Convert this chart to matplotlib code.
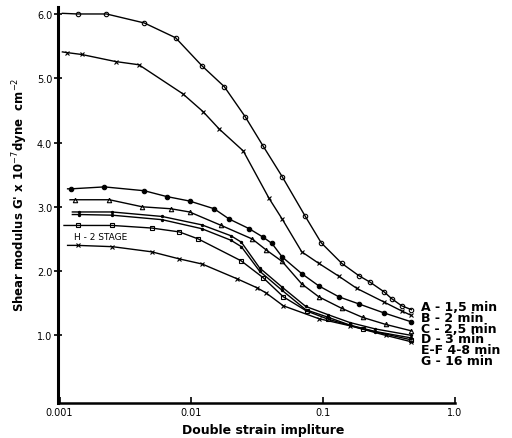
import numpy as np
import matplotlib
matplotlib.use("Agg")
import matplotlib.pyplot as plt
from matplotlib.ticker import NullLocator

# values (strain, G' x 1e-7 dyne/cm2)
strain_A = [0.00105, 0.00137, 0.00227, 0.0044, 0.0076, 0.0121, 0.0178, 0.0257, 0.035, 0.049,
            0.073, 0.097, 0.139, 0.187, 0.227, 0.29, 0.333, 0.396, 0.47]
mod_A = [6.01, 6.00, 6.00, 5.86, 5.63, 5.19, 4.87, 4.40, 3.95, 3.47,
         2.86, 2.44, 2.12, 1.93, 1.83, 1.68, 1.57, 1.46, 1.40]

strain_B = [0.00105, 0.00113, 0.00147, 0.00266, 0.004, 0.0086, 0.0123, 0.0163, 0.0248, 0.039,
            0.049, 0.069, 0.093, 0.132, 0.181, 0.29, 0.396, 0.47]
mod_B = [5.41, 5.40, 5.37, 5.26, 5.21, 4.76, 4.48, 4.21, 3.87, 3.13,
         2.81, 2.30, 2.12, 1.92, 1.73, 1.52, 1.38, 1.31]

strain_C = [0.00115, 0.00123, 0.00219, 0.0044, 0.0065, 0.0097, 0.0149, 0.0194, 0.0275, 0.035,
            0.041, 0.049, 0.069, 0.093, 0.132, 0.187, 0.29, 0.47]
mod_C = [3.28, 3.28, 3.31, 3.25, 3.16, 3.09, 2.97, 2.81, 2.66, 2.53,
         2.43, 2.22, 1.96, 1.77, 1.60, 1.49, 1.35, 1.21]

strain_D = [0.0012, 0.0013, 0.00239, 0.00425, 0.007, 0.0097, 0.0169, 0.029, 0.037, 0.049,
            0.069, 0.093, 0.139, 0.2, 0.3, 0.47]
mod_D = [3.11, 3.11, 3.11, 3.00, 2.97, 2.92, 2.71, 2.50, 2.33, 2.15,
         1.80, 1.60, 1.42, 1.28, 1.17, 1.07]

strain_E = [0.00125, 0.0014, 0.0025, 0.006, 0.012, 0.02, 0.024, 0.033, 0.049, 0.074,
            0.11, 0.16, 0.25, 0.47]
mod_E = [2.92, 2.92, 2.92, 2.85, 2.72, 2.55, 2.45, 2.05, 1.75, 1.45,
         1.32, 1.20, 1.10, 1.00]

strain_F = [0.00125, 0.0014, 0.0025, 0.006, 0.012, 0.02, 0.024, 0.033, 0.049, 0.074,
            0.11, 0.16, 0.25, 0.47]
mod_F = [2.88, 2.88, 2.87, 2.80, 2.66, 2.48, 2.38, 2.00, 1.70, 1.40,
         1.28, 1.16, 1.06, 0.96]

strain_G = [0.00108, 0.00137, 0.00252, 0.005, 0.0081, 0.0113, 0.0239, 0.035, 0.05, 0.075,
            0.11, 0.2, 0.47]
mod_G = [2.71, 2.71, 2.71, 2.67, 2.61, 2.50, 2.16, 1.90, 1.60, 1.38,
         1.25, 1.10, 0.93]

strain_H = [0.00115, 0.00137, 0.00252, 0.005, 0.0081, 0.0121, 0.0223, 0.0316, 0.037, 0.05,
            0.093, 0.16, 0.3, 0.47]
mod_H = [2.40, 2.40, 2.38, 2.30, 2.19, 2.11, 1.88, 1.74, 1.66, 1.46,
         1.26, 1.15, 1.00, 0.90]

curve_labels = ["A - 1,5 min", "B - 2 min", "C - 2,5 min", "D - 3 min",
                "E-F 4-8 min", "G - 16 min"]

fig = plt.figure(figsize=(5.12, 4.39), dpi=100)
ax = fig.add_axes([0.113, 0.080, 0.775, 0.902])

curves = [
    (strain_A, mod_A, "o", "none"),
    (strain_B, mod_B, "x", "k"),
    (strain_C, mod_C, "o", "k"),
    (strain_D, mod_D, "^", "none"),
    (strain_E, mod_E, ".", "k"),
    (strain_F, mod_F, ".", "k"),
    (strain_G, mod_G, "s", "none"),
    (strain_H, mod_H, "x", "k"),
]
for sx, sy, m, fc in curves:
    ax.plot(sx, sy, color="k", lw=1.0, marker=m, markersize=3.2,
            markerfacecolor=fc, markeredgecolor="k", markeredgewidth=0.8,
            markevery=slice(1, None))

ax.set_xscale("log")
ax.set_xlim(0.00097, 1.0)
ax.set_ylim(-0.05, 6.11)

ax.set_xticks([0.001, 0.01, 0.1, 1.0], ["0.001", "0.01", "0.1", "1.0"])
ax.xaxis.set_minor_locator(NullLocator())
ax.set_yticks([1, 2, 3, 4, 5, 6], ["1.0", "2.0", "3.0", "4.0", "5.0", "6.0"])

for s in ["top", "right"]:
    ax.spines[s].set_visible(False)
ax.spines["left"].set_linewidth(2.2)
ax.spines["bottom"].set_linewidth(1.8)
ax.tick_params(axis="y", direction="inout", length=6, width=1.2, labelsize=7, pad=1)
ax.tick_params(axis="x", direction="in", length=4, width=1.2, labelsize=7, pad=3)

# curve key, stacked to the right of the curve ends
ax.text(0.552, 1.55, "\n".join(curve_labels), fontsize=9, fontweight="bold",
        va="top", ha="left", linespacing=0.78, clip_on=False)

ax.text(0.00128, 2.47, "H - 2 STAGE", fontsize=6.5, va="bottom", ha="left")

fig.text(0.040, 0.556, "Shear modulus G' x 10$^{-7}$dyne  cm$^{-2}$", rotation=90,
         fontsize=8.5, fontweight="bold", ha="center", va="center")
fig.text(0.514, 0.020, "Double strain impliture", fontsize=9, fontweight="bold",
         ha="center", va="center")

fig.savefig("out.png", dpi=100)
